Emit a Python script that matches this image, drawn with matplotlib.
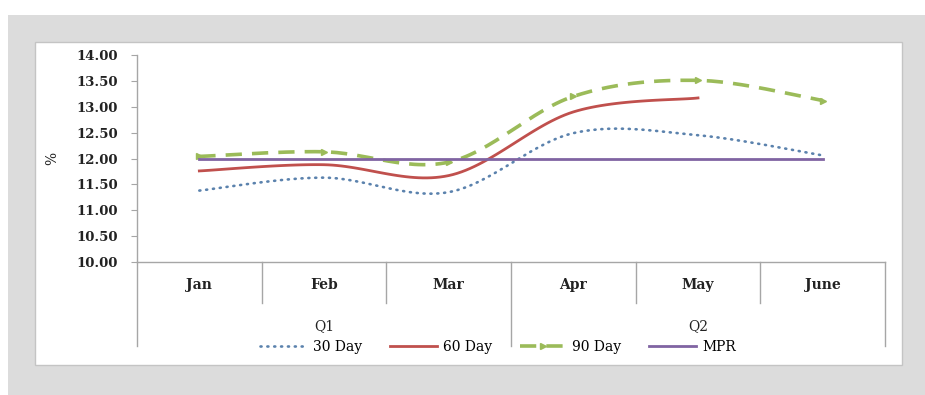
import numpy as np
import matplotlib
matplotlib.use("Agg")
import matplotlib.pyplot as plt
from matplotlib.patches import Rectangle
from matplotlib.lines import Line2D

months = ["Jan", "Feb", "Mar", "Apr", "May", "June"]
quarters = ["Q1", "Q2"]
rate_30 = [11.38, 11.63, 11.35, 12.49, 12.45, 12.06]
rate_60 = [11.76, 11.88, 11.67, 12.90, 13.17]
rate_90 = [12.04, 12.13, 11.93, 13.20, 13.51, 13.12]
mpr = [12.00, 12.00, 12.00, 12.00, 12.00, 12.00]
y_ticks = [10.0, 10.5, 11.0, 11.5, 12.0, 12.5, 13.0, 13.5, 14.0]

W, H = 925, 395


def fx(px):
    return px / W


def fy(py):
    return 1 - py / H


def smooth(vals, n=30):
    """Bezier-smoothed curve through the points (spreadsheet-style smoothing)."""
    pts = np.column_stack([np.arange(len(vals)), vals]).astype(float)
    out = []
    for i in range(len(pts) - 1):
        p0 = pts[i]
        p3 = pts[i + 1]
        prev = pts[i - 1] if i > 0 else pts[i]
        nxt = pts[i + 2] if i + 2 < len(pts) else pts[i + 1]
        p1 = p0 + (p3 - prev) / 6
        p2 = p3 - (nxt - p0) / 6
        t = np.linspace(0, 1, n)[:, None]
        seg = ((1 - t) ** 3) * p0 + 3 * ((1 - t) ** 2) * t * p1 + 3 * (1 - t) * t ** 2 * p2 + t ** 3 * p3
        out.append(seg if i == 0 else seg[1:])
    seg = np.vstack(out)
    return seg[:, 0], seg[:, 1]


serif = "DejaVu Serif"
plt.rcParams["font.family"] = serif

fig = plt.figure(figsize=(W / 100, H / 100), dpi=100, facecolor="white")

# grey backdrop and white chart panel
fig.patches.append(Rectangle((fx(8), 0), 1 - fx(8), fy(15), transform=fig.transFigure,
                             facecolor="#dcdcdc", edgecolor="none", zorder=-3))
fig.patches.append(Rectangle((fx(35), fy(365)), fx(902 - 35), (365 - 42) / H, transform=fig.transFigure,
                             facecolor="white", edgecolor="#c4c4c4", lw=1.0, zorder=-2))

ax = fig.add_axes([fx(137), fy(262), fx(885 - 137), (262 - 55) / H])
ax.set_facecolor("none")

c30 = "#5b82ad"
c60 = "#c0504d"
c90 = "#9bbb59"
cmpr = "#8064a2"
axis_grey = "#a6a6a6"
dots = (0, (0.4, 2.2))

x, y = smooth(rate_30)
ax.plot(x, y, color=c30, lw=1.9, linestyle=dots, dash_capstyle="round")
x, y = smooth(rate_60)
ax.plot(x, y, color=c60, lw=2.0)
x, y = smooth(rate_90)
ax.plot(x, y, color=c90, lw=2.6, linestyle=(0, (4.5, 2.8)))
ax.plot(np.arange(len(rate_90)), rate_90, linestyle="none", marker=">", ms=4.5, color=c90)
ax.plot(np.arange(len(mpr)), mpr, color=cmpr, lw=2.0)

ax.set_xlim(-0.5, len(months) - 0.5)
ax.set_ylim(10, 14)
ax.set_yticks(y_ticks)
ax.set_yticklabels([f"{v:.2f}" for v in y_ticks], fontsize=9.5, fontweight="bold", color="#222222")
ax.tick_params(axis="y", direction="out", length=4, width=0.8, color=axis_grey, pad=10)
ax.set_xticks([])
for s in ["top", "right"]:
    ax.spines[s].set_visible(False)
for s in ["left", "bottom"]:
    ax.spines[s].set_color(axis_grey)
    ax.spines[s].set_linewidth(1.0)
ax.set_ylabel("%", fontsize=10, color="#222222", labelpad=12)

# two-level category axis
tr = ax.get_xaxis_transform()
for i, m in enumerate(months):
    ax.text(i, -0.11, m, transform=tr, ha="center", va="center",
            fontsize=10, fontweight="bold", color="#222222")
for b in [0.5, 1.5, 3.5, 4.5]:
    ax.plot([b, b], [0, -0.198], transform=tr, color=axis_grey, lw=1.0, clip_on=False)
for b in [-0.5, 2.5, 5.5]:
    ax.plot([b, b], [0, -0.405], transform=tr, color=axis_grey, lw=1.0, clip_on=False)
for q, label in enumerate(quarters):
    ax.text(q * 3 + 1, -0.31, label, transform=tr, ha="center", va="center",
            fontsize=10, color="#222222")

handles = [
    Line2D([], [], color=c30, lw=1.9, linestyle=dots, dash_capstyle="round"),
    Line2D([], [], color=c60, lw=2.0),
    Line2D([], [], color=c90, lw=2.6, linestyle=(0, (4.5, 2.8)), marker=">", ms=4.5, markevery=[1]),
    Line2D([], [], color=cmpr, lw=2.0),
]
fig.legend(handles, ["30 Day", "60 Day", "90 Day", "MPR"], loc="center",
           bbox_to_anchor=(fx(498), fy(347)), ncol=4, frameon=False,
           prop={"family": serif, "size": 10}, handlelength=3.4,
           handletextpad=0.4, columnspacing=2.0, borderpad=0)

fig.savefig("out.png", dpi=100, facecolor=fig.get_facecolor())
